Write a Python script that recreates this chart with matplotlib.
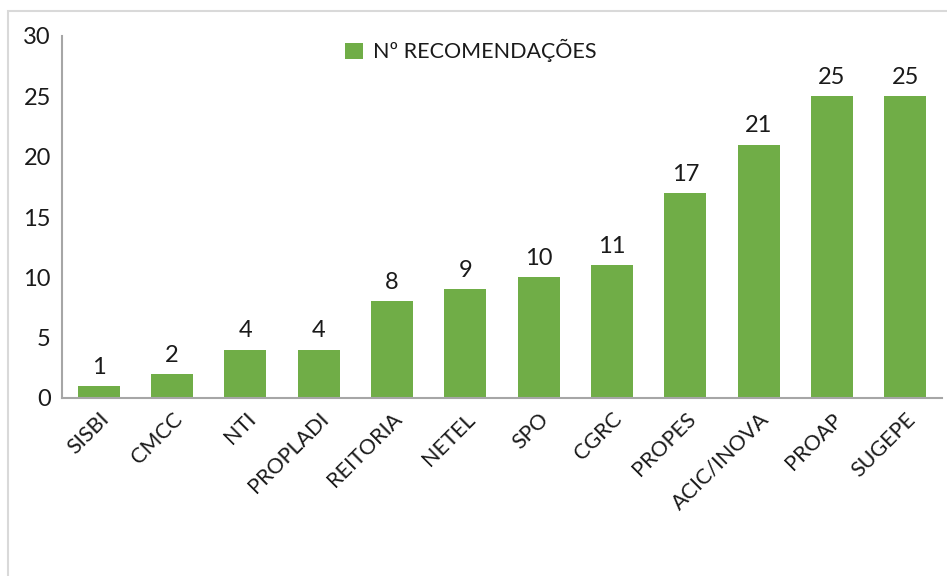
import matplotlib.pyplot as plt
from matplotlib.patches import Rectangle

categories = ["SISBI", "CMCC", "NTI", "PROPLADI", "REITORIA", "NETEL",
              "SPO", "CGRC", "PROPES", "ACIC/INOVA", "PROAP", "SUGEPE"]
recomendacoes = [1, 2, 4, 4, 8, 9, 10, 11, 17, 21, 25, 25]
yticks = [0, 5, 10, 15, 20, 25, 30]

plt.rcParams['font.family'] = ['Lato', 'DejaVu Sans']

fig = plt.figure(figsize=(9.47, 5.76), dpi=100)
W, H = 947, 576

# outer chart frame (runs past the right and bottom edges)
fig.patches.append(Rectangle((8 / W, -0.1), 1.2, (H - 11) / H + 0.1,
                             transform=fig.transFigure, fill=False,
                             edgecolor='#d9d9d9', linewidth=1.5))

ax = fig.add_axes([62 / W, 1 - 398 / H, (942 - 62) / W, (398 - 36) / H])

x = range(len(categories))
bars = ax.bar(x, recomendacoes, width=0.57, color='#70ad47',
              label='Nº RECOMENDAÇÕES')
ax.bar_label(bars, padding=6, fontsize=17, color='#1a1a1a')

ax.set_xlim(-0.5, len(categories) - 0.5)
ax.set_ylim(0, 30)
ax.set_yticks(yticks)
ax.set_yticklabels([str(t) for t in yticks], fontsize=17, color='#1a1a1a')
ax.set_xticks(list(x))
ax.set_xticklabels(categories, rotation=45, ha='right', rotation_mode='anchor',
                   fontsize=15.5, color='#1a1a1a')
ax.tick_params(length=0)
ax.tick_params(axis='y', pad=8)
ax.tick_params(axis='x', pad=8)

for side in ('top', 'right'):
    ax.spines[side].set_visible(False)
for side in ('left', 'bottom'):
    ax.spines[side].set_color('#a6a6a6')
    ax.spines[side].set_linewidth(1.5)

ax.legend(loc='upper center', bbox_to_anchor=(0.465, 1.045), frameon=False,
          fontsize=15.5, handlelength=0.8, handleheight=0.8, handletextpad=0.5,
          labelcolor='#1a1a1a')

fig.savefig('out.png', dpi=100)
